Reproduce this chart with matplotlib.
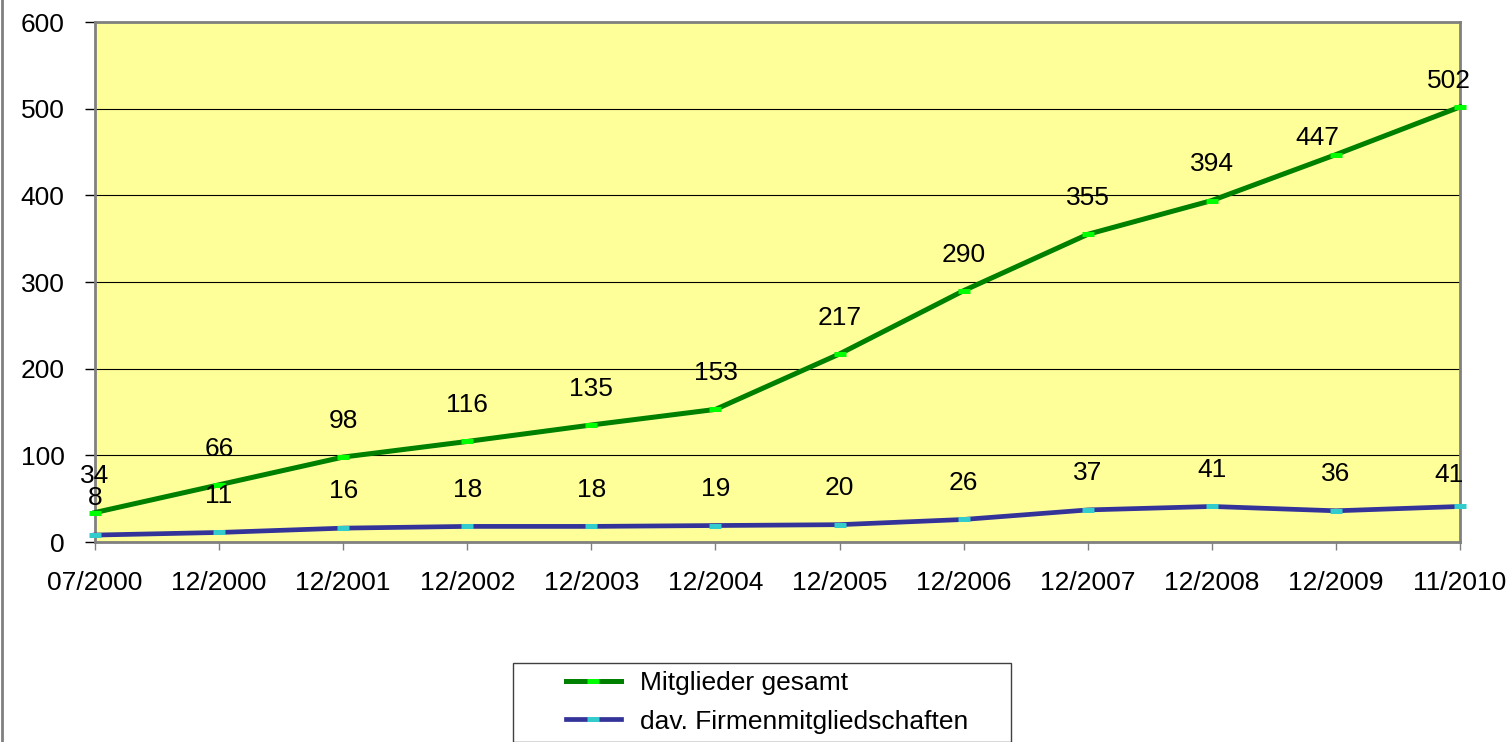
import matplotlib
matplotlib.use('Agg')
import matplotlib.pyplot as plt
from matplotlib.patches import Rectangle
from matplotlib.lines import Line2D

# --- Daten ---
zeitpunkte = ['07/2000', '12/2000', '12/2001', '12/2002', '12/2003', '12/2004',
              '12/2005', '12/2006', '12/2007', '12/2008', '12/2009', '11/2010']
mitglieder_gesamt = [34, 66, 98, 116, 135, 153, 217, 290, 355, 394, 447, 502]
firmenmitglieder = [8, 11, 16, 18, 18, 19, 20, 26, 37, 41, 36, 41]

plt.rcParams['font.family'] = ['Liberation Sans', 'DejaVu Sans']
FS = 19

W, H = 1511, 742
fig = plt.figure(figsize=(W / 100, H / 100), dpi=100)
ax = fig.add_axes([95 / W, 1 - 542 / H, (1460 - 95) / W, (542 - 22) / H])
ax.set_facecolor('#FFFF99')

x = list(range(len(zeitpunkte)))

ax.plot(x, mitglieder_gesamt, color='#008000', lw=3.6, marker='_',
        markersize=8, markeredgewidth=3.6, markeredgecolor='#00FF00',
        label='Mitglieder gesamt', zorder=3, clip_on=False)
ax.plot(x, firmenmitglieder, color='#333399', lw=3.4, marker='_',
        markersize=8, markeredgewidth=3.6, markeredgecolor='#33CCCC',
        label='dav. Firmenmitgliedschaften', zorder=3, clip_on=False)

# Datenbeschriftungen (die letzten Beschriftungen leicht verschoben wie im Original)
for i, (xi, v) in enumerate(zip(x, mitglieder_gesamt)):
    dx, dy = 0, 26
    if i == 10:
        dx, dy = -13, 12
    elif i == 11:
        dx, dy = -8, 19
    ax.annotate(str(v), (xi, v), xytext=(dx, dy), textcoords='offset points',
                ha='center', va='center', fontsize=FS, zorder=4)
for i, (xi, v) in enumerate(zip(x, firmenmitglieder)):
    dx, dy = 0, 26.5
    if i == 11:
        dx, dy = -8, 23
    ax.annotate(str(v), (xi, v), xytext=(dx, dy), textcoords='offset points',
                ha='center', va='center', fontsize=FS, zorder=4)

ax.set_xlim(0, len(zeitpunkte) - 1)
ax.set_ylim(0, 600)
ax.set_xticks(x)
ax.set_xticklabels(zeitpunkte)
ax.set_yticks(range(0, 601, 100))
ax.yaxis.grid(True, color='black', lw=0.8)
ax.set_axisbelow(True)

for s in ax.spines.values():
    s.set_color('#808080')
    s.set_linewidth(2)

ax.tick_params(axis='x', labelsize=FS, length=6, width=1, color='#808080', pad=15)
ax.tick_params(axis='y', labelsize=FS, length=7, width=1, color='black', pad=15)

# Legende
fig.legend(loc='upper left', bbox_to_anchor=(566 / W, 1 - 671 / H),
           frameon=False, fontsize=FS, borderpad=0, borderaxespad=0,
           handlelength=2.08, handletextpad=0.72, labelspacing=0.55, numpoints=1)
fig.add_artist(Rectangle((513 / W, 0), (1011 - 513) / W, (742 - 663) / H,
                         transform=fig.transFigure, fill=False,
                         edgecolor='#404040', lw=1))

# Rahmen links
fig.add_artist(Line2D([1.5 / W, 1.5 / W], [1 / H, 1], transform=fig.transFigure,
                      color='#808080', lw=2))

fig.savefig('out.png', dpi=100)
